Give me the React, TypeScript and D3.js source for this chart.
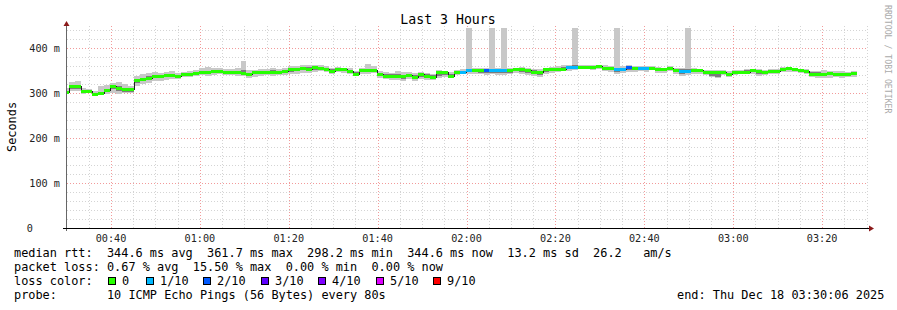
import React from 'react';
import * as d3 from 'd3';

// ---- data (one value per 80 s step, first step starts 00:29:09) ----
const MEDIAN = [
  304, 316, 316, 306, 306, 299, 301, 307, 316, 311,
  309, 309, 330, 332, 334, 339, 339, 340, 340, 339,
  344, 344, 345, 348, 348, 350, 350, 347, 347, 347,
  346, 343, 347, 347, 348, 348, 348, 350, 353, 353,
  356, 355, 358, 357, 354, 350, 354, 354, 350, 344,
  352, 352, 352, 342, 339, 339, 338, 338, 341, 336,
  344, 338, 337, 347, 347, 339, 347, 348, 352, 352,
  352, 352, 352, 352, 352, 351, 354, 354, 351, 348,
  347, 354, 354, 355, 355, 359, 359, 359, 359, 358,
  361, 356, 356, 353, 353, 358, 356, 356, 356, 357,
  353, 353, 357, 352, 350, 350, 352, 352, 348, 347,
  347, 348, 344, 348, 348, 348, 352, 350, 347, 350,
  350, 355, 356, 355, 352, 350, 344, 344, 344, 346,
  344, 344, 344, 345,
];
const SMOKE_LO = [
  300, 306, 305, 299, 300, 295, 296, 299, 301, 298,
  300, 301, 316, 320, 324, 328, 327, 330, 331, 332,
  336, 337, 338, 340, 338, 341, 343, 341, 340, 339,
  338, 335, 337, 338, 340, 339, 340, 341, 343, 344,
  346, 345, 348, 349, 347, 343, 347, 346, 342, 338,
  344, 343, 345, 335, 331, 330, 330, 328, 332, 328,
  332, 330, 329, 333, 336, 333, 340, 342, 344, 343,
  343, 341, 342, 340, 341, 343, 345, 343, 341, 338,
  336, 344, 345, 348, 349, 350, 351, 353, 353, 352,
  354, 349, 348, 343, 345, 347, 348, 349, 348, 351,
  346, 346, 350, 343, 339, 340, 343, 344, 340, 336,
  333, 341, 337, 341, 342, 343, 344, 338, 340, 343,
  342, 347, 348, 347, 345, 342, 336, 335, 334, 335,
  336, 335, 336, 336,
];
const SMOKE_HI = [
  312, 326, 328, 311, 310, 305, 316, 318, 324, 325,
  321, 316, 338, 342, 345, 348, 345, 348, 350, 346,
  348, 350, 352, 356, 358, 357, 356, 354, 355, 356,
  371, 352, 352, 353, 354, 356, 355, 357, 361, 360,
  362, 362, 363, 362, 360, 357, 358, 357, 356, 350,
  357, 366, 360, 350, 347, 346, 350, 348, 347, 345,
  348, 346, 343, 351, 350, 348, 352, 353, 445, 356,
  357, 356, 445, 357, 445, 356, 357, 358, 356, 354,
  353, 357, 358, 360, 362, 364, 445, 364, 362, 362,
  364, 362, 361, 445, 360, 363, 361, 360, 360, 361,
  358, 357, 361, 357, 356, 445, 356, 355, 352, 351,
  351, 352, 349, 352, 352, 353, 355, 354, 352, 354,
  354, 358, 358, 357, 355, 354, 350, 350, 351, 350,
  349, 349, 348, 349,
];
const CORE_LO = [
  301, 310, 309, 302, 302, 297, 298, 302, 310, 306,
  304, 303, 322, 328, 330, 333, 334, 336, 336, 335,
  340, 341, 342, 344, 343, 346, 346, 343, 344, 343,
  341, 339, 342, 343, 344, 344, 344, 345, 348, 349,
  351, 350, 352, 353, 350, 346, 350, 350, 345, 340,
  348, 347, 348, 338, 334, 334, 333, 332, 336, 331,
  337, 333, 332, 338, 341, 335, 343, 344, 347, 347,
  346, 345, 346, 345, 346, 346, 349, 348, 345, 342,
  340, 348, 349, 351, 352, 354, 355, 356, 356, 355,
  357, 352, 351, 348, 349, 351, 351, 352, 351, 353,
  349, 349, 352, 347, 344, 345, 347, 347, 343, 338,
  336, 344, 340, 344, 345, 345, 347, 342, 343, 346,
  346, 350, 351, 350, 348, 345, 340, 339, 338, 340,
  339, 339, 340, 340,
];
const CORE_HI = [
  306, 316, 315, 307, 306, 301, 303, 310, 319, 316,
  312, 308, 331, 335, 338, 341, 340, 344, 343, 341,
  345, 346, 347, 350, 350, 352, 351, 349, 349, 350,
  352, 346, 349, 349, 350, 351, 350, 352, 356, 356,
  358, 358, 360, 359, 356, 353, 356, 356, 352, 347,
  354, 354, 354, 345, 342, 342, 342, 341, 344, 340,
  346, 342, 340, 349, 349, 343, 349, 350, 354, 355,
  355, 355, 355, 355, 355, 353, 356, 356, 353, 351,
  350, 356, 356, 357, 358, 361, 362, 361, 361, 360,
  363, 359, 358, 357, 357, 361, 358, 358, 358, 359,
  356, 355, 359, 355, 353, 354, 354, 353, 350, 349,
  349, 350, 346, 350, 350, 351, 353, 352, 349, 352,
  352, 357, 357, 356, 354, 352, 347, 347, 346, 348,
  346, 346, 346, 347,
];
const LOSS = [
  0, 0, 0, 0, 0, 0, 0, 0, 0, 0,
  0, 0, 0, 0, 0, 0, 0, 0, 0, 0,
  0, 0, 0, 0, 0, 0, 0, 0, 0, 0,
  0, 0, 0, 0, 0, 0, 0, 0, 0, 0,
  0, 0, 0, 0, 0, 0, 0, 0, 0, 0,
  0, 0, 0, 0, 0, 0, 0, 0, 0, 0,
  0, 0, 0, 0, 0, 0, 0, 1, 1, 0,
  0, 2, 1, 1, 1, 0, 0, 0, 0, 0,
  0, 0, 0, 0, 0, 1, 1, 0, 0, 0,
  0, 0, 0, 1, 1, 2, 0, 1, 1, 0,
  0, 0, 0, 0, 1, 1, 0, 0, 0, 0,
  0, 0, 0, 0, 0, 0, 0, 0, 0, 0,
  0, 0, 0, 0, 0, 0, 0, 0, 0, 0,
  0, 0, 0, 0,
];

const LOSS_LABELS = ['0', '1/10', '2/10', '3/10', '4/10', '5/10', '9/10'];
const LOSS_COLORS = ['#26ff00', '#00b8ff', '#0059ff', '#5e00ff', '#7e00ff', '#dd00ff', '#ff0000'];
const Y_TICKS = [0, 100, 200, 300, 400];

const TITLE = 'Last 3 Hours';
const LEGEND_LINE1 = 'median rtt:  344.6 ms avg  361.7 ms max  298.2 ms min  344.6 ms now  13.2 ms sd  26.2   am/s';
const LEGEND_LINE2 = 'packet loss: 0.67 % avg  15.50 % max  0.00 % min  0.00 % now';
const LEGEND_LINE4 = 'probe:       10 ICMP Echo Pings (56 Bytes) every 80s';
const END_TEXT = 'end: Thu Dec 18 03:30:06 2025';

const START = new Date(2025, 11, 18, 0, 30, 6);
const END = new Date(2025, 11, 18, 3, 30, 6);
const FIRST_STEP = new Date(2025, 11, 18, 0, 29, 9);
const STEP_MS = 80 * 1000;

const MONO = '"DejaVu Sans Mono", monospace';

function lossIndex(n: number) {
  if (n <= 0) return 0;
  if (n <= 4) return n;
  if (n < 9) return 5;
  return 6;
}

export default function App() {
  const W = 897, H = 310;
  const L = 67, R = 867, B = 228.3, T = 25.8;
  const x = d3.scaleTime().domain([START, END]).range([L, R]);
  const y = d3.scaleLinear().domain([0, 450]).range([B, T]);

  const n = MEDIAN.length;
  const times = d3.range(n + 1).map((i) => new Date(FIRST_STEP.getTime() + i * STEP_MS));
  const idx = d3.range(n + 1);
  const at = (arr: number[], i: number) => arr[Math.min(i, n - 1)];
  const px = (i: number) => Math.round(x(times[i]));

  const area = (lo: number[], hi: number[]) =>
    d3.area<number>()
      .x((i) => px(i))
      .y0((i) => Math.round(y(at(lo, i))))
      .y1((i) => Math.round(y(at(hi, i))))
      .curve(d3.curveStepAfter)(idx) || '';

  const medLine = d3.line<number>()
    .x((i) => px(i))
    .y((i) => Math.round(y(at(MEDIAN, i))) + 0.5)
    .curve(d3.curveStepAfter)(idx) || '';

  const minorX = x.ticks(d3.timeMinute.every(5)!);
  const majorX = x.ticks(d3.timeMinute.every(20)!);
  const minorY = d3.range(20, 450, 20);
  const fmt = d3.timeFormat('%H:%M');

  const legendBoxX = [108, 146, 203, 261, 318, 376, 433];

  return (
    <svg width={W} height={H} style={{ position: 'absolute', left: 0, top: 0, display: 'block', background: '#fff' }}
      fontFamily={MONO}>
      <defs>
        <clipPath id="plot">
          <rect x={L} y={T} width={R - L} height={B - T} />
        </clipPath>
      </defs>
      <rect x={0} y={0} width={W} height={H} fill="#fff" />

      {/* grid */}
      <g shapeRendering="crispEdges" strokeWidth={1} strokeDasharray="1,2">
        {minorY.map((v) => (
          <line key={'my' + v} x1={L} x2={R} y1={Math.round(y(v)) + 0.5} y2={Math.round(y(v)) + 0.5} stroke="#d4d4d4" />
        ))}
        {minorX.map((t) => (
          <line key={'mx' + t.getTime()} x1={Math.round(x(t)) + 0.5} x2={Math.round(x(t)) + 0.5} y1={T} y2={B} stroke="#d4d4d4" />
        ))}
        {Y_TICKS.filter((v) => v > 0).map((v) => (
          <line key={'My' + v} x1={L} x2={R} y1={Math.round(y(v)) + 0.5} y2={Math.round(y(v)) + 0.5} stroke="#f29a9a" />
        ))}
        {majorX.map((t) => (
          <line key={'Mx' + t.getTime()} x1={Math.round(x(t)) + 0.5} x2={Math.round(x(t)) + 0.5} y1={T} y2={B} stroke="#f29a9a" />
        ))}
      </g>

      {/* smoke + median */}
      <g clipPath="url(#plot)" shapeRendering="crispEdges">
        <path d={area(SMOKE_LO, SMOKE_HI)} fill="#c8c8c8" />
        <path d={area(CORE_LO, CORE_HI)} fill="#7c7c7c" />
        <path d={medLine} fill="none" stroke="#202020" strokeWidth={1} />
        {MEDIAN.map((m, i) => (
          <rect key={'m' + i}
            x={px(i)} width={px(i + 1) - px(i)}
            y={Math.round(y(m)) - 1} height={3}
            fill={LOSS_COLORS[lossIndex(LOSS[i])]} />
        ))}
      </g>

      {/* axes */}
      <line x1={L - 0.5} x2={L - 0.5} y1={231} y2={25} stroke="#666" strokeWidth={1} shapeRendering="crispEdges" />
      <polygon points={`${L - 3.5},26 ${L + 2.5},26 ${L - 0.5},21`} fill="#8b1a1a" />
      <line x1={63} x2={869} y1={228.5} y2={228.5} stroke="#000" strokeWidth={1} shapeRendering="crispEdges" />
      <polygon points={`869,225.5 869,231.5 874,228.5`} fill="#8b1a1a" />

      {/* y labels */}
      {Y_TICKS.map((v) => (
        <text key={'yl' + v} x={v === 0 ? 33 : 60} y={y(v) + 3.7} fontSize={10.2} textAnchor="end" fill="#222">
          {v === 0 ? '0' : `${v} m`}
        </text>
      ))}
      {/* x labels */}
      {majorX.map((t) => (
        <text key={'xl' + t.getTime()} x={x(t)} y={241.5} fontSize={10.2} textAnchor="middle" fill="#222">
          {fmt(t)}
        </text>
      ))}

      <text x={448} y={24} fontSize={13.2} textAnchor="middle" fill="#000">{TITLE}</text>
      <text transform="translate(15.5,127) rotate(-90)" fontSize={11.88} textAnchor="middle" fill="#000">Seconds</text>
      <text transform="translate(884.5,5) rotate(90)" fontSize={8.2} fill="#aaaaaa">RRDTOOL / TOBI OETIKER</text>

      {/* legend */}
      <g fontSize={11.88} fill="#000" style={{ whiteSpace: 'pre' }}>
        <text x={14} y={257} style={{ whiteSpace: 'pre' }}>{LEGEND_LINE1}</text>
        <text x={14} y={271} style={{ whiteSpace: 'pre' }}>{LEGEND_LINE2}</text>
        <text x={14} y={285} style={{ whiteSpace: 'pre' }}>loss color:</text>
        {LOSS_LABELS.map((lab, i) => (
          <g key={'lg' + i}>
            <rect x={legendBoxX[i] + 0.5} y={277.5} width={7} height={7} fill={LOSS_COLORS[i]} stroke="#000" strokeWidth={1} />
            <text x={legendBoxX[i] + 14} y={285}>{lab}</text>
          </g>
        ))}
        <text x={14} y={299} style={{ whiteSpace: 'pre' }}>{LEGEND_LINE4}</text>
        <text x={677} y={299} style={{ whiteSpace: 'pre' }}>{END_TEXT}</text>
      </g>
    </svg>
  );
}
